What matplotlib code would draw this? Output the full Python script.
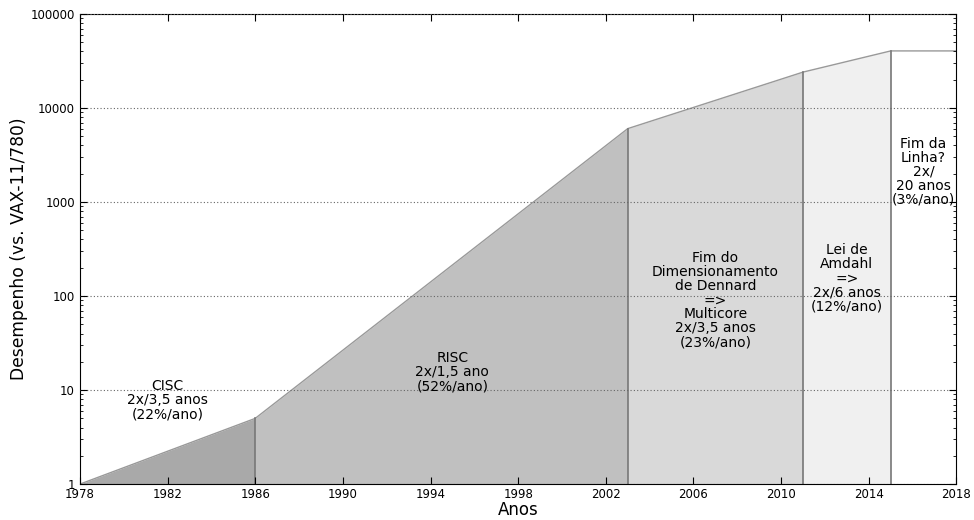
import matplotlib
matplotlib.use("Agg")
import matplotlib.pyplot as plt
import matplotlib.ticker as ticker
import numpy as np

# eras: start/end year and performance at the boundaries
years = [1978, 1986, 2003, 2011, 2015, 2018]
perf = [1, 5, 6043, 24129, 40527, 40527]
colors = ['#a9a9a9', '#c0c0c0', '#d9d9d9', '#f0f0f0', '#ffffff']

labels = ['CISC\n2x/3,5 anos\n(22%/ano)',
          'RISC\n2x/1,5 ano\n(52%/ano)',
          'Fim do\nDimensionamento\nde Dennard\n=>\nMulticore\n2x/3,5 anos\n(23%/ano)',
          'Lei de\nAmdahl\n=>\n2x/6 anos\n(12%/ano)',
          'Fim da\nLinha?\n2x/\n20 anos\n(3%/ano)']
label_x = [1982, 1995, 2007, 2013, 2016.5]
label_y = [7.8, 15.5, 90, 155, 2100]

fig = plt.figure(figsize=(9.74, 5.2), dpi=100)
ax = fig.add_axes([0.082, 0.069, 0.9, 0.904])

for i in range(len(colors)):
    ax.fill_between(years[i:i + 2], [1, 1], perf[i:i + 2], color=colors[i], lw=0, zorder=1)
    ax.text(label_x[i], label_y[i], labels[i], ha='center', va='center',
            fontsize=10, linespacing=1.0, zorder=3)

ax.plot(years, perf, color='#999999', lw=1, zorder=2)
for x, p in zip(years[1:-1], perf[1:-1]):
    ax.plot([x, x], [1, p], color='#777777', lw=1.2, zorder=2)

ax.set_yscale('log')
ax.set_xlim(1978, 2018)
ax.set_ylim(1, 100000)
ax.set_xticks(range(1978, 2019, 4))
ax.yaxis.set_major_formatter(ticker.FuncFormatter(lambda v, p: '%d' % v))
ax.yaxis.grid(True, which='major', linestyle=(0, (1, 2)), color='#666666', lw=0.8)
ax.set_axisbelow(False)
ax.tick_params(direction='in', top=True, right=True, which='both', labelsize=8.5)
ax.tick_params(which='major', length=5)
ax.tick_params(which='minor', length=2.5)
ax.tick_params(axis='x', pad=3)

ax.set_xlabel('Anos', fontsize=12, labelpad=0)
ax.set_ylabel('Desempenho (vs. VAX-11/780)', fontsize=12.3, labelpad=2)

fig.savefig('out.png', dpi=100)
